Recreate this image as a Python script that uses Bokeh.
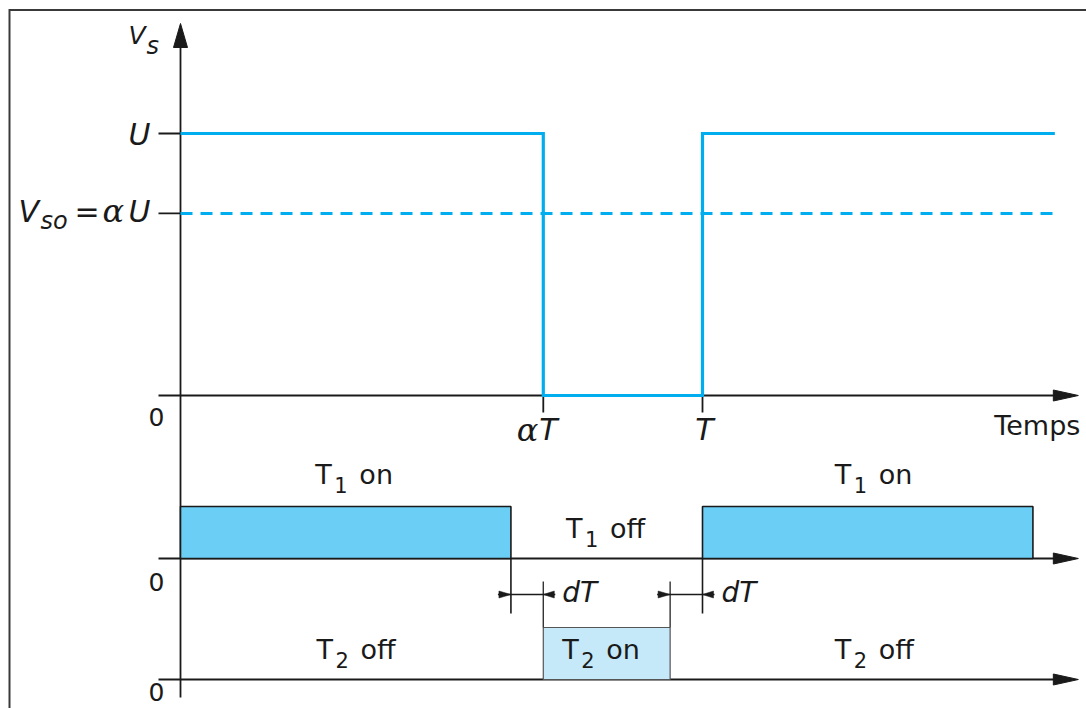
from bokeh.plotting import figure
from bokeh.models import Range1d
from bokeh.core.properties import value
from bokeh.embed import file_html
from bokeh.resources import INLINE

# ---------------- data (time in units of T, voltage in units of U) ----------------
wave_t = [0.0, 0.695, 0.695, 1.0, 1.0, 1.675]
wave_v = [1.0, 1.0, 0.0, 0.0, 1.0, 1.0]
mean_t = [0.0, 1.675]
mean_v = [0.695, 0.695]            # V_so = alpha * U
t1_on_start = [0.0, 1.0]
t1_on_end = [0.633, 1.633]
t2_on_start = [0.695]
t2_on_end = [0.938]
dead_gap_start = [0.633, 0.938]
dead_gap_end = [0.695, 1.0]
x_tick_t = [0.695, 1.0]
y_tick_v = [1.0, 0.695]
axis_end_t = 1.72
state_label_t = [0.335, 1.33, 0.815, 0.808, 0.337, 1.33]
state_label_panel = ["t1", "t1", "t1", "t2", "t2", "t2"]
state_label_level = [1, 1, 0, 0, 0, 0]
state_label_sub = ["1", "1", "1", "2", "2", "2"]
state_label_word = ["on", "on", "off", "on", "off", "off"]

# ---------------- layout / style ----------------
W, H = 1086, 708
ORIGIN_PX = 180          # canvas x of t = 0
PX_T = 522               # pixels per period T
PANELS = {"vs": (395, 262), "t1": (558, 52), "t2": (679, 52)}  # canvas y of level 0, px per unit
TEXT_SHIFT = -10         # global baseline correction (px, downward positive)

BLUE = "#00AEEF"
T1_FILL = "#6BCEF5"
T2_FILL = "#C6E9F9"
INK = "#1a1a1a"
FRAME = "#3a3a3a"
SANS = value("DejaVu Sans")
SERIF = value("DejaVu Serif")


def dx(px):
    return px / PX_T


def dy(panel, px):  # positive px = downward on screen
    return -px / PANELS[panel][1]


ranges = {k: Range1d((b - H) / s, b / s) for k, (b, s) in PANELS.items()}
xr = Range1d(-ORIGIN_PX / PX_T, (W - ORIGIN_PX) / PX_T)

p = figure(width=W, height=H, x_range=xr, y_range=ranges["vs"],
           output_backend="svg", toolbar_location=None, min_border=0,
           x_axis_type=None, y_axis_type=None, outline_line_color=None,
           background_fill_color="white", border_fill_color="white")
p.extra_y_ranges = {"t1": ranges["t1"], "t2": ranges["t2"]}


def rn(panel):
    return {} if panel == "vs" else {"y_range_name": panel}


def txt(x, y, s, panel="vs", size=27, align="left", italic=False, font=SANS, color=INK):
    p.text(x=[x], y=[y + dy(panel, TEXT_SHIFT)], text=[s], text_font=font,
           text_font_size=value(f"{size}px"),
           text_font_style="italic" if italic else "normal", text_align=align,
           text_baseline="alphabetic", text_color=color, **rn(panel))


# frame (left and top edges meeting in a corner)
fx = xr.start + dx(9)
fy = ranges["vs"].end + dy("vs", 9.5)
p.line([fx, fx, xr.end + dx(5)], [ranges["vs"].start - 1, fy, fy],
       line_color=FRAME, line_width=2, line_join="miter")

# vertical axis with arrow
v_tip = dy("vs", -372)
v_bottom = dy("vs", 302)
p.segment(x0=[0], y0=[v_bottom], x1=[0], y1=[v_tip + dy("vs", 20)], line_color=INK, line_width=1.8)
p.patches(xs=[[0, -dx(7), dx(7)]], ys=[[v_tip, v_tip + dy("vs", 24), v_tip + dy("vs", 24)]],
          fill_color=INK, line_color=INK, line_width=1)

# horizontal axes with arrows
zero_label_dy = {"vs": 31, "t1": 33, "t2": 22}
for panel in PANELS:
    p.segment(x0=[-dx(22)], y0=[0], x1=[axis_end_t - dx(20)], y1=[0],
              line_color=INK, line_width=1.8, **rn(panel))
    p.patches(xs=[[axis_end_t, axis_end_t - dx(25), axis_end_t - dx(25)]],
              ys=[[0, dy(panel, -5.5), dy(panel, 5.5)]],
              fill_color=INK, line_color=INK, line_width=1, **rn(panel))
    txt(-dx(24), dy(panel, zero_label_dy[panel]), "0", panel, size=25, align="center")

# ticks
p.segment(x0=[-dx(22)] * len(y_tick_v), y0=y_tick_v, x1=[0] * len(y_tick_v), y1=y_tick_v,
          line_color=INK, line_width=1.8)
p.segment(x0=x_tick_t, y0=[0] * len(x_tick_t), x1=x_tick_t, y1=[dy("vs", 17)] * len(x_tick_t),
          line_color=INK, line_width=1.8)

# waveform and mean value
p.line(mean_t, mean_v, line_color=BLUE, line_width=3, line_dash="12 8")
p.line(wave_t, wave_v, line_color=BLUE, line_width=3.2, line_join="miter")

# switch states
p.quad(left=t1_on_start, right=t1_on_end, bottom=[0] * len(t1_on_start), top=[1] * len(t1_on_start),
       fill_color=T1_FILL, line_color=INK, line_width=1.6, y_range_name="t1")
p.quad(left=t2_on_start, right=t2_on_end, bottom=[0] * len(t2_on_start), top=[1] * len(t2_on_start),
       fill_color=T2_FILL, line_color="#555555", line_width=1.2, y_range_name="t2")

# dead-time dimensions (drawn in t2 units)
t1_base_in_t2 = (PANELS["t2"][0] - PANELS["t1"][0]) / PANELS["t2"][1]
ext_low = dy("t2", -66)
t1_edges = [dead_gap_start[0], dead_gap_end[1]]
t2_edges = [dead_gap_end[0], dead_gap_start[1]]
p.segment(x0=t1_edges, y0=[t1_base_in_t2] * 2, x1=t1_edges, y1=[ext_low] * 2,
          line_color=INK, line_width=1.6, y_range_name="t2")
p.segment(x0=t2_edges, y0=[1] * 2, x1=t2_edges, y1=[dy("t2", -98)] * 2,
          line_color="#333333", line_width=1.4, y_range_name="t2")
dim_y = dy("t2", -85)
for gs, ge in zip(dead_gap_start, dead_gap_end):
    p.segment(x0=[gs - dx(13)], y0=[dim_y], x1=[ge + dx(12)], y1=[dim_y],
              line_color=INK, line_width=1.5, y_range_name="t2")
    p.patches(xs=[[gs, gs - dx(12), gs - dx(12)], [ge, ge + dx(11), ge + dx(11)]],
              ys=[[dim_y, dim_y + dy("t2", -3.5), dim_y + dy("t2", 3.5)]] * 2,
              fill_color=INK, line_color=INK, line_width=0.5, y_range_name="t2")
    txt(ge + dx(19), dim_y + dy("t2", 8), "dT", "t2", size=28, italic=True)

# state labels
for c, panel, lvl, sub, word in zip(state_label_t, state_label_panel, state_label_level,
                                    state_label_sub, state_label_word):
    L = c - dx(40)
    base = lvl + dy(panel, -22 if lvl == 1 else -20)
    txt(L, base, "T", panel, size=27)
    txt(L + dx(19), base + dy(panel, 10), sub, panel, size=21)
    txt(L + dx(44), base, word, panel, size=27)

# vertical-axis labels
txt(-dx(52), v_tip + dy("vs", 22), "V", size=25, italic=True)
txt(-dx(34), v_tip + dy("vs", 32), "s", size=24, italic=True)
txt(-dx(30), y_tick_v[0] + dy("vs", 11), "U", size=30, italic=True, align="right")
mv = y_tick_v[1]
txt(-dx(162), mv + dy("vs", 8), "V", size=30, italic=True)
txt(-dx(140), mv + dy("vs", 18), "so", size=24, italic=True)
txt(-dx(106), mv + dy("vs", 8), "=", size=30)
txt(-dx(78), mv + dy("vs", 8), "α", size=32, italic=True, font=SERIF)
txt(-dx(30), mv + dy("vs", 8), "U", size=30, italic=True, align="right")

# time-axis labels
txt(x_tick_t[0] - dx(5), dy("vs", 44), "α", size=32, italic=True, font=SERIF, align="right")
txt(x_tick_t[0] - dx(4), dy("vs", 44), "T", size=30, italic=True)
txt(x_tick_t[1] + dx(2), dy("vs", 44), "T", size=30, italic=True, align="center")
txt(axis_end_t + dx(2), dy("vs", 40), "Temps", size=27, align="right")

open("out.html", "w").write(file_html(p, INLINE))
